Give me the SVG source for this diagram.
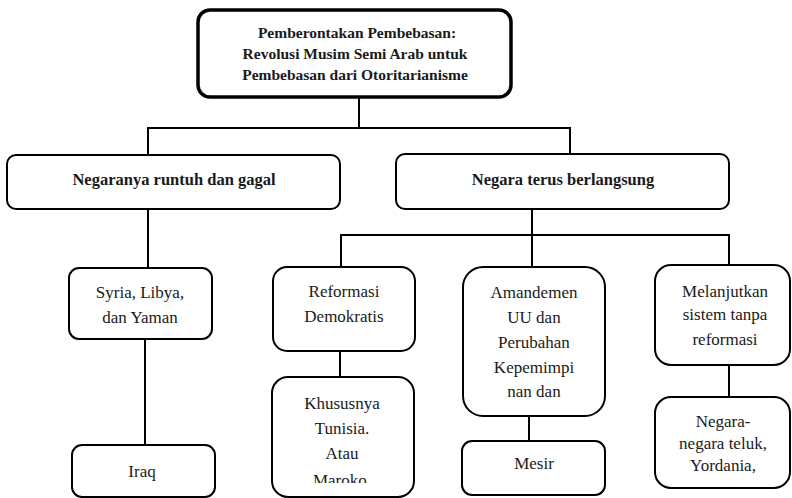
<svg xmlns="http://www.w3.org/2000/svg" width="792" height="498" viewBox="0 0 792 498">
<style>
.box{fill:#fff;stroke:#000;stroke-width:2}
.top{fill:#fff;stroke:#000;stroke-width:3.5}
.c line{stroke:#000;stroke-width:2}
text{fill:#1a1a1a;text-anchor:middle}
.b1{font-weight:bold;font-size:15.5px}
.b2{font-weight:bold;font-size:16.5px}
.r{font-size:17px}
</style>
<defs>
<clipPath id="clipK"><rect x="272" y="377" width="142" height="106"/></clipPath>
</defs>
<rect width="792" height="498" fill="#fff"/>
<g class="c" id="connectors">
<line x1="359" y1="97" x2="359" y2="128"/>
<line x1="147" y1="128" x2="571" y2="128"/>
<line x1="148" y1="128" x2="148" y2="155"/>
<line x1="570" y1="128" x2="570" y2="154"/>
<line x1="148" y1="209" x2="148" y2="268"/>
<line x1="145" y1="339" x2="145" y2="445"/>
<line x1="532" y1="209" x2="532" y2="267"/>
<line x1="340" y1="235" x2="730" y2="235"/>
<line x1="341" y1="235" x2="341" y2="267"/>
<line x1="729" y1="235" x2="729" y2="265"/>
<line x1="340" y1="351" x2="340" y2="377"/>
<line x1="529" y1="416" x2="529" y2="441"/>
<line x1="729" y1="365" x2="729" y2="397"/>
</g>
<g font-family="'Liberation Serif', 'DejaVu Serif', serif">
<g id="n-root">
<rect class="top" x="198" y="10" width="313" height="87" rx="12"/>
<text class="b1" x="357" y="38">Pemberontakan Pembebasan:</text>
<text class="b1" x="355" y="59">Revolusi Musim Semi Arab untuk</text>
<text class="b1" x="355" y="80">Pembebasan dari Otoritarianisme</text>
</g>
<g id="n-runtuh">
<rect class="box" x="7" y="155" width="333" height="54" rx="9"/>
<text class="b2" x="174" y="185">Negaranya runtuh dan gagal</text>
</g>
<g id="n-terus">
<rect class="box" x="396" y="154" width="333" height="55" rx="9"/>
<text class="b2" x="563" y="185">Negara terus berlangsung</text>
</g>
<g id="n-syria">
<rect class="box" x="69" y="268" width="143" height="71" rx="10"/>
<text class="r" x="140" y="298">Syria, Libya,</text>
<text class="r" x="140" y="323">dan Yaman</text>
</g>
<g id="n-iraq">
<rect class="box" x="72" y="445" width="143" height="52" rx="10"/>
<text class="r" x="142" y="477">Iraq</text>
</g>
<g id="n-reformasi">
<rect class="box" x="273" y="267" width="142" height="84" rx="14"/>
<text class="r" x="344" y="297">Reformasi</text>
<text class="r" x="344" y="322">Demokratis</text>
</g>
<g id="n-khusus">
<rect class="box" x="272" y="377" width="142" height="120" rx="16"/>
<g clip-path="url(#clipK)">
<text class="r" x="342" y="409">Khususnya</text>
<text class="r" x="342" y="434">Tunisia.</text>
<text class="r" x="342" y="459">Atau</text>
<text class="r" x="342" y="486">Maroko.</text>
</g>
</g>
<g id="n-amandemen">
<rect class="box" x="463" y="267" width="142" height="149" rx="20"/>
<text class="r" x="534" y="298">Amandemen</text>
<text class="r" x="534" y="323">UU dan</text>
<text class="r" x="534" y="348">Perubahan</text>
<text class="r" x="534" y="373">Kepemimpi</text>
<text class="r" x="534" y="397">nan dan</text>
</g>
<g id="n-mesir">
<rect class="box" x="462" y="441" width="143" height="54" rx="10"/>
<text class="r" x="534" y="469">Mesir</text>
</g>
<g id="n-melanjutkan">
<rect class="box" x="655" y="265" width="135" height="100" rx="16"/>
<text class="r" x="725" y="297">Melanjutkan</text>
<text class="r" x="725" y="320">sistem tanpa</text>
<text class="r" x="725" y="345">reformasi</text>
</g>
<g id="n-teluk">
<rect class="box" x="655" y="397" width="135" height="91" rx="16"/>
<text class="r" x="723" y="427">Negara-</text>
<text class="r" x="723" y="449">negara teluk,</text>
<text class="r" x="723" y="471">Yordania,</text>
</g>
</g>
</svg>
